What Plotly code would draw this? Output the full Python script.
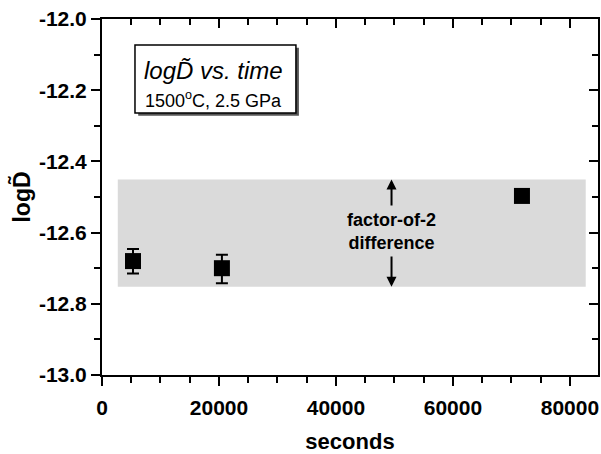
import plotly.graph_objects as go

# data
seconds = [5300, 20500, 71800]
log_d = [-12.68, -12.70, -12.497]
err_plus = [0.034, 0.038, 0.0]
err_minus = [0.035, 0.042, 0.0]

band_x = [2700, 82700]
band_y = [-12.752, -12.451]
arrow_x = 49500
arrow_up = [-12.528, -12.451]
arrow_down = [-12.663, -12.752]

x_range = [0, 84800]
y_range = [-13.0, -12.0]
x_ticks = [0, 20000, 40000, 60000, 80000]
x_ticktext = ["0", "20000", "40000", "60000", "80000"]
y_ticks = [-13.0, -12.8, -12.6, -12.4, -12.2, -12.0]
y_ticktext = ["-13.0", "-12.8", "-12.6", "-12.4", "-12.2", "-12.0"]

FONT = "Liberation Sans"

fig = go.Figure()
fig.add_trace(go.Scatter(
    x=seconds, y=log_d, mode="markers",
    marker=dict(symbol="square", size=16, color="black"),
    error_y=dict(type="data", symmetric=False, array=err_plus, arrayminus=err_minus,
                 color="black", thickness=2, width=6),
    showlegend=False,
))
fig.add_trace(go.Scatter(x=[None], y=[None], xaxis="x2", yaxis="y2", showlegend=False))

fig.add_shape(type="rect", xref="x", yref="y", x0=band_x[0], x1=band_x[1],
              y0=band_y[0], y1=band_y[1], fillcolor="#dadada", line=dict(width=0),
              layer="below")

# text box with shadow (paper = plot area)
fig.add_shape(type="rect", xref="paper", yref="paper", x0=0.073, x1=0.397, y0=0.728, y1=0.919,
              fillcolor="#555555", line=dict(width=0), layer="above")
fig.add_shape(type="rect", xref="paper", yref="paper", x0=0.0665, x1=0.391, y0=0.736, y1=0.927,
              fillcolor="white", line=dict(color="black", width=1.5), layer="above")
fig.add_annotation(xref="paper", yref="paper", x=0.081, y=0.854, xanchor="left", yanchor="middle",
                   showarrow=False, text="<i>logD\u0303 vs. time</i>",
                   font=dict(family=FONT, size=24, color="black"))
fig.add_annotation(xref="paper", yref="paper", x=0.083, y=0.775, xanchor="left", yanchor="middle",
                   showarrow=False, text="1500<sup>o</sup>C, 2.5 GPa",
                   font=dict(family=FONT, size=18, color="black"))

# arrows and label
fig.add_annotation(x=arrow_x, y=arrow_up[1], ax=arrow_x, ay=arrow_up[0], xref="x", yref="y",
                   axref="x", ayref="y", showarrow=True, arrowhead=2, arrowsize=1,
                   arrowwidth=2, arrowcolor="black", text="")
fig.add_annotation(x=arrow_x, y=arrow_down[1], ax=arrow_x, ay=arrow_down[0], xref="x", yref="y",
                   axref="x", ayref="y", showarrow=True, arrowhead=2, arrowsize=1,
                   arrowwidth=2, arrowcolor="black", text="")
fig.add_annotation(x=arrow_x, y=(arrow_up[0] + arrow_down[0]) / 2, xref="x", yref="y",
                   showarrow=False, text="<b>factor-of-2<br>difference</b>",
                   font=dict(family=FONT, size=18, color="black"))

axis_common = dict(showgrid=False, zeroline=False, showline=True, linecolor="black",
                   linewidth=2, tickcolor="black", tickwidth=2, ticklen=9, automargin=False)

fig.update_layout(
    width=601, height=454,
    margin=dict(l=102, r=3, t=19, b=79),
    paper_bgcolor="white", plot_bgcolor="white",
    font=dict(family=FONT, color="black"),
    xaxis=dict(range=x_range, tickvals=x_ticks, ticktext=x_ticktext, ticks="outside",
               minor=dict(dtick=5000, ticks="outside", ticklen=6, tickcolor="black", tickwidth=2),
               tickfont=dict(size=21, family=FONT, weight="bold"), ticklabelstandoff=4,
               title=dict(text="<b>seconds</b>", font=dict(size=22, family=FONT), standoff=16),
               **axis_common),
    yaxis=dict(range=y_range, tickvals=y_ticks, ticktext=y_ticktext, ticks="outside",
               minor=dict(dtick=0.1, ticks="outside", ticklen=6, tickcolor="black", tickwidth=2),
               tickfont=dict(size=21, family=FONT, weight="bold"),
               title=dict(text="<b>logD\u0303</b>", font=dict(size=23, family=FONT), standoff=2),
               **axis_common),
    xaxis2=dict(range=x_range, overlaying="x", side="top", tickvals=x_ticks, ticks="inside",
                showticklabels=False,
                minor=dict(dtick=5000, ticks="inside", ticklen=6, tickcolor="black", tickwidth=2),
                **axis_common),
    yaxis2=dict(range=y_range, overlaying="y", side="right", tickvals=y_ticks, ticks="inside",
                showticklabels=False,
                minor=dict(dtick=0.1, ticks="inside", ticklen=6, tickcolor="black", tickwidth=2),
                **axis_common),
)

# remove the browser's default 8px body margin so the figure sits at the page corner
fig.write_html("out.html", config={"displayModeBar": False},
               post_script="document.body.style.margin='0';")
